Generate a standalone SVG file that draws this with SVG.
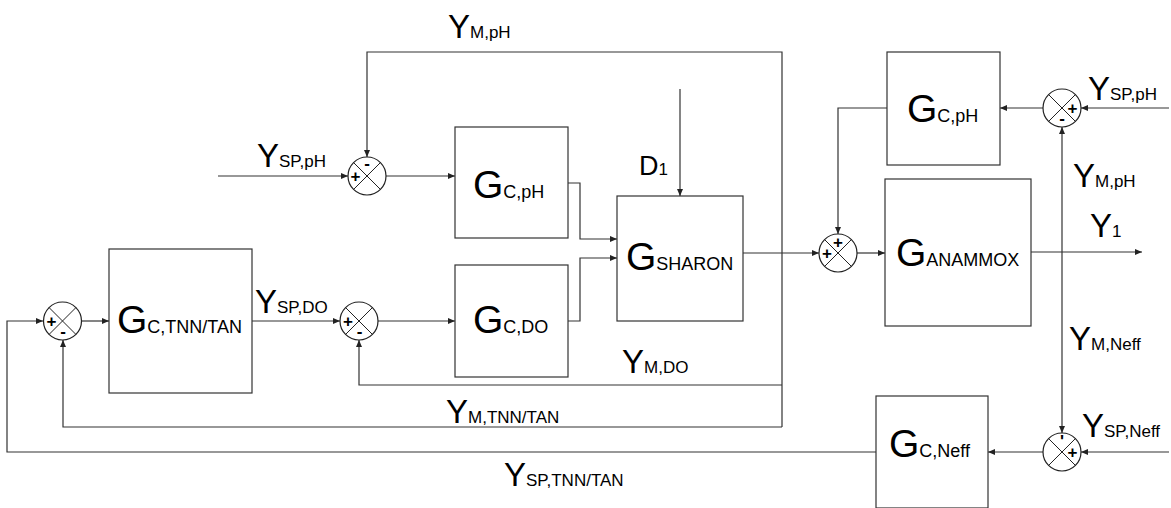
<svg xmlns="http://www.w3.org/2000/svg" width="1171" height="508" viewBox="0 0 1171 508">
<defs>
<style>
.b{fill:#fff;stroke:#333;stroke-width:1.2}
.c{fill:none;stroke:#333;stroke-width:1.2}
.j{fill:#fff;stroke:#222;stroke-width:1.2}
.x{stroke:#222;stroke-width:1}
.t{font-family:"Liberation Sans",Arial,sans-serif;fill:#000}
.G{font-size:39px}
.gs{font-size:18px}
.Y{font-size:33px}
.s{font-size:17px}
.p{font-family:"Liberation Sans",Arial,sans-serif;font-size:17px;font-weight:bold;fill:#000;text-anchor:middle}
</style>
<marker id="a" markerWidth="8" markerHeight="8" refX="7" refY="4" orient="auto-start-reverse" markerUnits="userSpaceOnUse"><path d="M0,1 L7,4 L0,7 z" fill="#222"/></marker>
</defs>
<rect width="1171" height="508" fill="#fff"/>
<g id="connectors" class="c" marker-end="url(#a)">
<path d="M782,427 V52 H367 V157"/>
<path d="M782,385 H359 V340"/>
<path d="M782,427 H63 V340"/>
<path d="M218,176 H348"/>
<path d="M386,176 H455"/>
<path d="M568,183 H580 V239 H617"/>
<path d="M568,321 H580 V258 H617"/>
<path d="M680,89 V196"/>
<path d="M743,253 H819"/>
<path d="M876,452 H7 V321 H43"/>
<path d="M82,321 H109"/>
<path d="M252,321 H340"/>
<path d="M378,321 H455"/>
<path d="M887,108 H838 V234"/>
<path d="M857,253 H885"/>
<path d="M1031,252 H1142"/>
<path d="M1043,108 H1000"/>
<path d="M1169,108 H1081"/>
<path d="M1062,127 V433" marker-start="url(#a)"/>
<path d="M1169,452 H1081"/>
<path d="M1043,452 H988"/>
</g>
<g id="G_C_pH_left"><rect class="b" x="455" y="127" width="113" height="111"/><text class="t" x="473" y="198"><tspan class="G">G</tspan><tspan class="gs">C,pH</tspan></text></g>
<g id="G_C_DO"><rect class="b" x="455" y="265" width="113" height="112"/><text class="t" x="473" y="333"><tspan class="G">G</tspan><tspan class="gs">C,DO</tspan></text></g>
<g id="G_SHARON"><rect class="b" x="617" y="196" width="126" height="125"/><text class="t" x="626" y="270"><tspan class="G">G</tspan><tspan class="gs">SHARON</tspan></text></g>
<g id="G_C_TNN_TAN"><rect class="b" x="109" y="249" width="143" height="144"/><text class="t" x="117" y="333"><tspan class="G">G</tspan><tspan class="gs">C,TNN/TAN</tspan></text></g>
<g id="G_ANAMMOX"><rect class="b" x="885" y="179" width="146" height="147"/><text class="t" x="896" y="266"><tspan class="G">G</tspan><tspan class="gs">ANAMMOX</tspan></text></g>
<g id="G_C_pH_right"><rect class="b" x="887" y="52" width="113" height="113"/><text class="t" x="907" y="122"><tspan class="G">G</tspan><tspan class="gs">C,pH</tspan></text></g>
<g id="G_C_Neff"><rect class="b" x="876" y="396" width="112" height="112"/><text class="t" x="889" y="457"><tspan class="G">G</tspan><tspan class="gs">C,Neff</tspan></text></g>
<g id="J0"><circle class="j" cx="367" cy="176" r="19"/><path class="x" d="M353.6,162.6 L380.4,189.4 M380.4,162.6 L353.6,189.4"/><text class="p" x="367" y="169">-</text><text class="p" x="355.5" y="182">+</text></g>
<g id="J1"><circle class="j" cx="62.5" cy="321" r="19"/><path class="x" d="M49.1,307.6 L75.9,334.4 M75.9,307.6 L49.1,334.4"/><text class="p" x="51.5" y="327">+</text><text class="p" x="63" y="337">-</text></g>
<g id="J2"><circle class="j" cx="359" cy="321" r="19"/><path class="x" d="M345.6,307.6 L372.4,334.4 M372.4,307.6 L345.6,334.4"/><text class="p" x="348" y="327">+</text><text class="p" x="359.5" y="337">-</text></g>
<g id="J3"><circle class="j" cx="838" cy="253" r="19"/><path class="x" d="M824.6,239.6 L851.4,266.4 M851.4,239.6 L824.6,266.4"/><text class="p" x="838" y="248">+</text><text class="p" x="827" y="259">+</text></g>
<g id="J4"><circle class="j" cx="1062" cy="108" r="19"/><path class="x" d="M1048.6,94.6 L1075.4,121.4 M1075.4,94.6 L1048.6,121.4"/><text class="p" x="1072.5" y="114">+</text><text class="p" x="1062" y="124">-</text></g>
<g id="J5"><circle class="j" cx="1062" cy="452" r="19"/><path class="x" d="M1048.6,438.6 L1075.4,465.4 M1075.4,438.6 L1048.6,465.4"/><text class="p" x="1062" y="447">'</text><text class="p" x="1072.5" y="458">+</text></g>
<g id="labels" class="t">
<text x="448" y="38"><tspan class="Y">Y</tspan><tspan class="s">M,pH</tspan></text>
<text x="257" y="167"><tspan class="Y">Y</tspan><tspan class="s">SP,pH</tspan></text>
<text x="255" y="313"><tspan class="Y">Y</tspan><tspan class="s">SP,DO</tspan></text>
<text x="622" y="373"><tspan class="Y">Y</tspan><tspan class="s">M,DO</tspan></text>
<text x="446" y="423"><tspan class="Y">Y</tspan><tspan class="s">M,TNN/TAN</tspan></text>
<text x="504" y="486"><tspan class="Y">Y</tspan><tspan class="s">SP,TNN/TAN</tspan></text>
<text x="639" y="175"><tspan style="font-size:27px">D</tspan><tspan class="s">1</tspan></text>
<text x="1088" y="100"><tspan class="Y">Y</tspan><tspan class="s">SP,pH</tspan></text>
<text x="1073" y="187"><tspan class="Y">Y</tspan><tspan class="s">M,pH</tspan></text>
<text x="1090" y="237"><tspan class="Y">Y</tspan><tspan class="s">1</tspan></text>
<text x="1069" y="350"><tspan class="Y">Y</tspan><tspan class="s">M,Neff</tspan></text>
<text x="1082" y="437"><tspan class="Y">Y</tspan><tspan class="s">SP,Neff</tspan></text>
</g>
</svg>
